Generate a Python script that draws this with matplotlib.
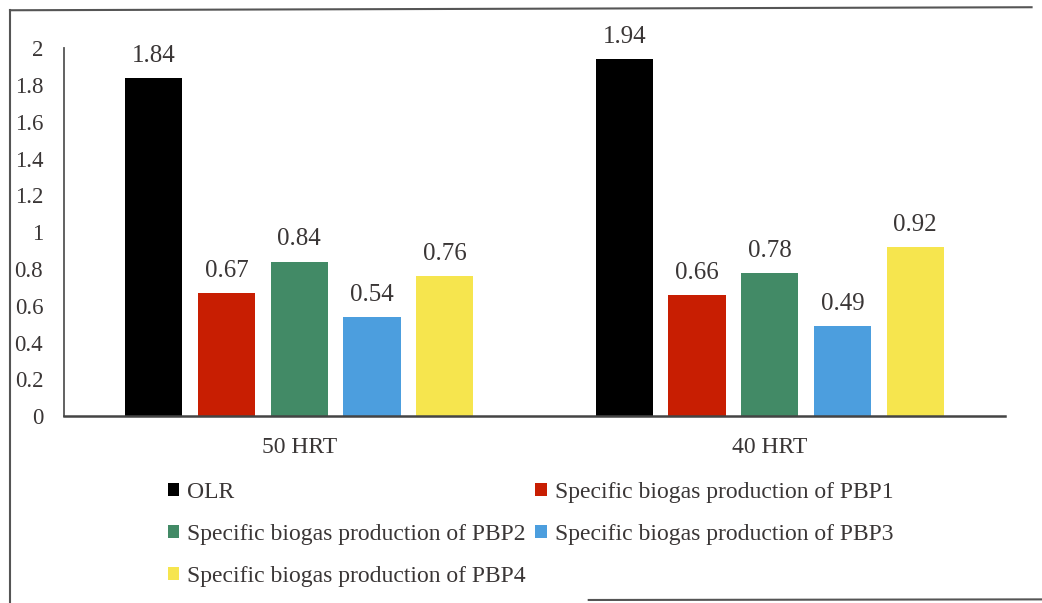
import matplotlib.pyplot as plt
import numpy as np
from matplotlib.lines import Line2D

# HRT groups and the five series plotted for each
groups = ['50 HRT', '40 HRT']
series = ['OLR',
          'Specific biogas production of PBP1',
          'Specific biogas production of PBP2',
          'Specific biogas production of PBP3',
          'Specific biogas production of PBP4']
olr = [1.84, 1.94]
pbp1 = [0.67, 0.66]
pbp2 = [0.84, 0.78]
pbp3 = [0.54, 0.49]
pbp4 = [0.76, 0.92]
y_ticks = [0, 0.2, 0.4, 0.6, 0.8, 1, 1.2, 1.4, 1.6, 1.8, 2]
y_tick_labels = ['0', '0.2', '0.4', '0.6', '0.8', '1', '1.2', '1.4', '1.6', '1.8', '2']

colors = ['#000000', '#C81E02', '#428A66', '#4C9EDE', '#F6E54E']
text_color = '#3a3636'

plt.rcParams['font.family'] = ['Liberation Serif', 'DejaVu Serif']

fig = plt.figure(figsize=(10.42, 6.03), dpi=100)
ax = fig.add_axes([0.0614, 0.310, 0.9031, 0.610])

x = np.arange(len(groups))
width = 0.122
step = 0.1546
values = [olr, pbp1, pbp2, pbp3, pbp4]
bars = []
for i, (name, vals) in enumerate(zip(series, values)):
    b = ax.bar(x + (i - 2) * step, vals, width, color=colors[i], label=name)
    bars.append(b)
    ax.bar_label(b, labels=[f'{v:.2f}' for v in vals], padding=8,
                 fontsize=18, color=text_color)

ax.set_xlim(-0.5, 1.5)
ax.set_ylim(0, 2)
ax.set_yticks(y_ticks)
ax.set_yticklabels(y_tick_labels)
ax.set_xticks(x)
ax.set_xticklabels(groups)
ax.tick_params(axis='y', length=0, pad=15, labelsize=16.5, labelcolor=text_color)
ax.tick_params(axis='x', length=0, pad=15, labelsize=17, labelcolor=text_color)

for side in ['top', 'right']:
    ax.spines[side].set_visible(False)
ax.spines['left'].set_color('#555555')
ax.spines['bottom'].set_color('#444444')
ax.spines['left'].set_linewidth(1.3)
ax.spines['bottom'].set_linewidth(1.8)

# legend filled row by row: OLR, PBP1 / PBP2, PBP3 / PBP4
order = [0, 2, 4, 1, 3]
leg = fig.legend([bars[i] for i in order], [series[i] for i in order],
                 ncol=2, loc='upper left', bbox_to_anchor=(0.152, 0.217),
                 frameon=False, fontsize=17, labelcolor=text_color,
                 handlelength=0.47, handleheight=0.47, handletextpad=0.34,
                 columnspacing=0.42, labelspacing=0.9, borderaxespad=0)

# outer frame lines around the chart
frame_kw = dict(color='#555555', linewidth=1.5, transform=fig.transFigure)
fig.add_artist(Line2D([0.0096, 0.0096], [0.0, 0.983], **frame_kw))
fig.add_artist(Line2D([0.0096, 0.99], [0.983, 0.988], **frame_kw))
fig.add_artist(Line2D([0.565, 1.0], [0.005, 0.006], **frame_kw))

fig.savefig('out.png', dpi=100, facecolor='white')
